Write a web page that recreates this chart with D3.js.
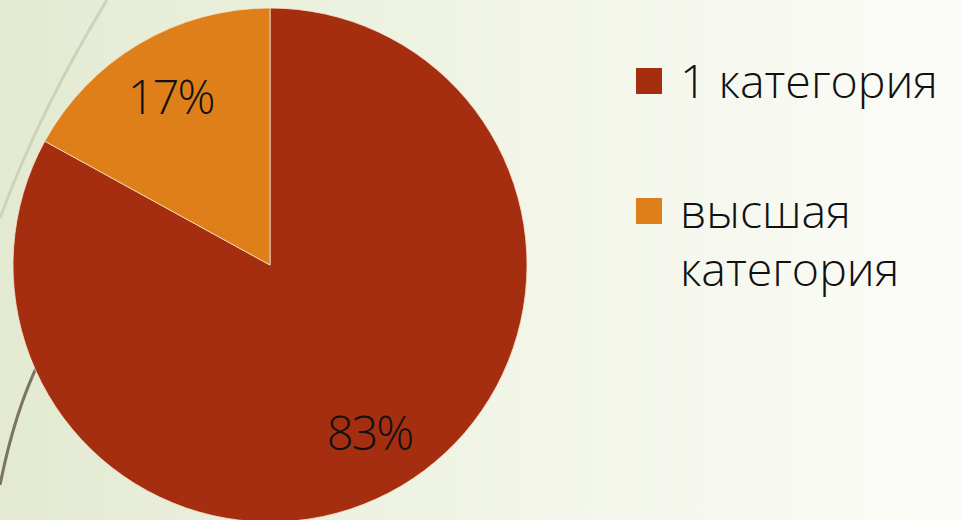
<!DOCTYPE html>
<html>
<head>
<meta charset="utf-8">
<script src="https://cdn.jsdelivr.net/npm/d3@7"></script>
<style>
  html, body { margin: 0; padding: 0; overflow: hidden; }
  svg { display: block; font-family: "Open Sans", sans-serif; }
</style>
</head>
<body>
<svg width="961" height="520"></svg>
<script>
const width = 961, height = 520;
const svg = d3.select("svg");

// data
const categories = ["1 категория", "высшая категория"];
const values = [83, 17];
const legendLines = [["1 категория"], ["высшая", "категория"]];
const colors = ["#a52e10", "#df7f1a"];

// background
const defs = svg.append("defs");
const bg = defs.append("linearGradient").attr("id", "bg").attr("x1", 0).attr("x2", 1).attr("y1", 0).attr("y2", 0);
bg.append("stop").attr("offset", "0%").attr("stop-color", "#e3ead1");
bg.append("stop").attr("offset", "60%").attr("stop-color", "#f3f6ea");
bg.append("stop").attr("offset", "100%").attr("stop-color", "#fbfcf8");
svg.append("rect").attr("width", width).attr("height", height).attr("fill", "url(#bg)");

// theme decoration lines
svg.append("path").attr("d", "M107,0 Q40,110 0,218")
  .attr("fill", "none").attr("stroke", "#cdd3bb").attr("stroke-width", 3);
svg.append("path").attr("d", "M40,360 Q15,410 0,485")
  .attr("fill", "none").attr("stroke", "#7b7560").attr("stroke-width", 3);

// pie
const cx = 270, cy = 265, r = 257;
const pie = d3.pie().sort(null).value(d => d)(values);
const arc = d3.arc().innerRadius(0).outerRadius(r);
const g = svg.append("g").attr("transform", `translate(${cx},${cy})`);
g.selectAll("path").data(pie).join("path")
  .attr("d", arc)
  .attr("fill", (d, i) => colors[i])
  .attr("stroke", "#f3e3c8").attr("stroke-width", 0.8);

const labelArc = d3.arc().innerRadius(r * 0.76).outerRadius(r * 0.76);
const fmt = d => Math.round(d.value / d3.sum(values) * 100) + "%";
g.selectAll("text").data(pie).join("text")
  .attr("transform", d => `translate(${labelArc.centroid(d)})`)
  .attr("dy", "0.36em")
  .attr("text-anchor", "middle")
  .attr("font-size", 47).attr("font-weight", 300)
  .attr("letter-spacing", -2)
  .attr("fill", "#111")
  .text(fmt);

// legend
const legend = svg.append("g");
const items = legend.selectAll("g").data(categories).join("g")
  .attr("transform", (d, i) => `translate(636,${68 + i * 130})`);
items.append("rect").attr("width", 26).attr("height", 26).attr("fill", (d, i) => colors[i]);
items.append("text")
  .attr("x", 44).attr("y", 30)
  .attr("font-size", 46.5).attr("font-weight", 300).attr("fill", "#111")
  .selectAll("tspan").data((d, i) => legendLines[i]).join("tspan")
  .attr("x", 44).attr("dy", (d, j) => j === 0 ? 0 : 58)
  .text(d => d);
</script>
</body>
</html>
